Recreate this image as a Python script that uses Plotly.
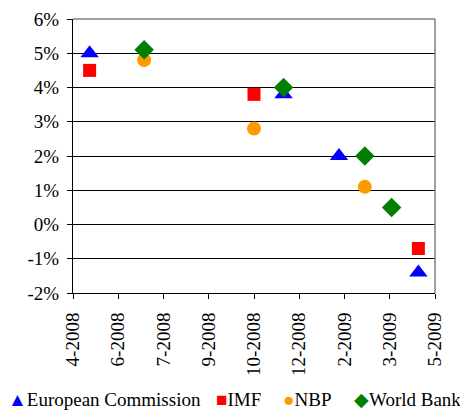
"""GDP growth forecasts for Poland by institution, redrawn with Plotly."""

import plotly.graph_objects as go

# x axis ticks (date axis, evenly spaced like the original Excel chart)
TICK_DATES = ["2008-04-15", "2008-06-03", "2008-07-22", "2008-09-09", "2008-10-28",
              "2008-12-16", "2009-02-03", "2009-03-24", "2009-05-12"]
TICK_LABELS = ["4-2008", "6-2008", "7-2008", "9-2008", "10-2008",
               "12-2008", "2-2009", "3-2009", "5-2009"]

Y_TICKS = [-0.02, -0.01, 0.0, 0.01, 0.02, 0.03, 0.04, 0.05, 0.06]
Y_LABELS = ["-2%", "-1%", "0%", "1%", "2%", "3%", "4%", "5%", "6%"]

ec_dates = ["2008-05-03", "2008-11-29", "2009-01-28", "2009-04-24"]
ec_values = [0.050, 0.038, 0.020, -0.014]

imf_dates = ["2008-05-03", "2008-10-28", "2009-04-24"]
imf_values = [0.045, 0.038, -0.007]

nbp_dates = ["2008-07-01", "2008-10-28", "2009-02-25"]
nbp_values = [0.048, 0.028, 0.011]

wb_dates = ["2008-07-01", "2008-11-29", "2009-02-25", "2009-03-26"]
wb_values = [0.051, 0.040, 0.020, 0.005]

# name, dates, values, marker symbol, colour, marker size, legend glyph, legend x (paper)
SERIES = [
    ("European Commission", ec_dates, ec_values, "triangle-up", "#0000ff", 16, "\u25b2", -0.186),
    ("IMF", imf_dates, imf_values, "square", "#ff0000", 13, "\u25a0", 0.389),
    ("NBP", nbp_dates, nbp_values, "circle", "#ff9900", 14, "\u25cf", 0.574),
    ("World Bank", wb_dates, wb_values, "diamond", "#008000", 15, "\u25c6", 0.772),
]

FONT = "Liberation Serif"
SIZE = 19

fig = go.Figure()
for name, dates, values, symbol, color, size, _, _ in SERIES:
    fig.add_trace(
        go.Scatter(
            x=dates,
            y=values,
            mode="markers",
            name=name,
            marker={"symbol": symbol, "color": color, "size": size, "line": {"width": 0}},
        )
    )

# legend drawn as text so that it stays on one line like the original
legend_notes = []
for name, _, _, _, color, _, glyph, lx in SERIES:
    legend_notes.append({
        "text": f"<span style='color:{color};font-size:19px'>{glyph}</span>{name}",
        "xref": "paper",
        "yref": "paper",
        "x": lx,
        "y": -0.39,
        "xanchor": "left",
        "yanchor": "middle",
        "showarrow": False,
        "font": {"family": FONT, "size": SIZE, "color": "black"},
    })

fig.update_layout(
    width=460,
    height=402,
    margin={"l": 65, "r": 33, "t": 11, "b": 117},
    paper_bgcolor="white",
    plot_bgcolor="white",
    font={"family": FONT, "size": SIZE, "color": "black"},
    showlegend=False,
    annotations=legend_notes,
    shapes=[
        {"type": "line", "xref": "paper", "yref": "paper", "x0": 0, "x1": 1, "y0": 1, "y1": 1,
         "line": {"color": "#808080", "width": 1.5}},
        {"type": "line", "xref": "paper", "yref": "paper", "x0": 1, "x1": 1, "y0": 0, "y1": 1,
         "line": {"color": "#808080", "width": 1.5}},
    ],
)

fig.update_xaxes(
    type="date",
    range=[TICK_DATES[0], TICK_DATES[-1]],
    tickmode="array",
    tickvals=TICK_DATES,
    ticktext=TICK_LABELS,
    tickangle=-90,
    tickfont={"family": FONT, "size": SIZE, "color": "black"},
    ticklabelstandoff=6,
    showgrid=False,
    showline=True,
    linecolor="black",
    linewidth=1,
    ticks="outside",
    ticklen=5,
    tickcolor="black",
    zeroline=False,
    automargin=False,
)
fig.update_yaxes(
    range=[-0.02, 0.06],
    tickmode="array",
    tickvals=Y_TICKS,
    ticktext=Y_LABELS,
    tickfont={"family": FONT, "size": SIZE, "color": "black"},
    ticklabelstandoff=4,
    showgrid=True,
    gridcolor="black",
    gridwidth=1,
    showline=True,
    linecolor="black",
    linewidth=1,
    ticks="outside",
    ticklen=5,
    tickcolor="black",
    zeroline=False,
    automargin=False,
)

fig.write_html("out.html")
